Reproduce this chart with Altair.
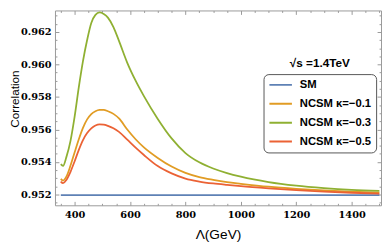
import altair as alt
import pandas as pd

# ---- data ----
lam = [350, 358, 370, 385, 400, 415, 430, 445, 460, 475, 490, 505, 520, 540, 560,
       590, 620, 650, 700, 750, 800, 850, 900, 950, 1000, 1100, 1200, 1300, 1400, 1500]
sm = [0.95196] * len(lam)
k01 = [0.95296, 0.95286, 0.95310, 0.95378, 0.95460, 0.95540, 0.95610, 0.95662, 0.95695,
       0.95712, 0.95720, 0.95721, 0.95712, 0.95696, 0.95668, 0.95600, 0.95540, 0.95490,
       0.95425, 0.95372, 0.95333, 0.95307, 0.95290, 0.95276, 0.95266, 0.95248, 0.95235,
       0.95225, 0.95218, 0.95212]
k03 = [0.95387, 0.95376, 0.95430, 0.95530, 0.95680, 0.95860, 0.96020, 0.96150, 0.96255,
       0.96305, 0.96320, 0.96310, 0.96288, 0.96230, 0.96145, 0.96010, 0.95900, 0.95805,
       0.95665, 0.95545, 0.95455, 0.95398, 0.95360, 0.95332, 0.95310, 0.95277, 0.95255,
       0.95240, 0.95229, 0.95222]
k05 = [0.95280, 0.95270, 0.95290, 0.95340, 0.95405, 0.95475, 0.95535, 0.95578, 0.95607,
       0.95625, 0.95632, 0.95630, 0.95622, 0.95607, 0.95585, 0.95537, 0.95488, 0.95443,
       0.95375, 0.95330, 0.95298, 0.95280, 0.95268, 0.95259, 0.95251, 0.95238, 0.95227,
       0.95218, 0.95211, 0.95206]

series_names = ["SM", "NCSM κ=−0.1", "NCSM κ=−0.3", "NCSM κ=−0.5"]
series_values = [sm, k01, k03, k05]
colors = ["#5E81B5", "#E19C24", "#8FB032", "#EB6235"]

x_major = [400, 600, 800, 1000, 1200, 1400]
x_minor = [350, 450, 500, 550, 650, 700, 750, 850, 900, 950, 1050, 1100, 1150,
           1250, 1300, 1350, 1450, 1500]
y_major = [0.952, 0.954, 0.956, 0.958, 0.960, 0.962]
y_minor = [0.9515, 0.9525, 0.953, 0.9535, 0.9545, 0.955, 0.9555, 0.9565, 0.957,
           0.9575, 0.9585, 0.959, 0.9595, 0.9605, 0.961, 0.9615, 0.9625, 0.963]

title_text = "√s =1.4TeV"

rows = []
for name, vals in zip(series_names, series_values):
    for xv, yv in zip(lam, vals):
        rows.append({"lam": xv, "corr": yv, "series": name})
df = pd.DataFrame(rows)

W, H = 333, 199
FRAME = "#999999"

xs = alt.Scale(domain=[329, 1506], nice=False, zero=False)
ys = alt.Scale(domain=[0.951338, 0.963318], nice=False, zero=False)

color = alt.Color(
    "series:N",
    scale=alt.Scale(domain=series_names, range=colors),
    legend=alt.Legend(
        title=None, orient="none", legendX=213, legendY=65,
        symbolType="stroke", symbolSize=529, symbolStrokeWidth=2,
        clipHeight=12, rowPadding=7.3, padding=5, labelOffset=7,
        labelFont="Liberation Sans", labelFontSize=11.5, labelFontWeight="bold",
        labelColor="black", strokeColor="#555555", cornerRadius=5,
        fillColor="white",
    ),
)

main = alt.Chart(df).mark_line(strokeWidth=1.8, interpolate="monotone").encode(
    x=alt.X("lam:Q", scale=xs, axis=alt.Axis(
        orient="bottom", values=x_major, format="d", ticks=False, tickSize=0,
        grid=False, domainColor=FRAME, labelFont="DejaVu Serif", labelFontWeight="bold",
        labelFontSize=10, labelColor="black", labelPadding=4,
        title="Λ(GeV)", titleFont="Liberation Sans", titleFontSize=14,
        titleFontWeight="normal", titleColor="black", titleBaseline="middle",
        titleY=30)),
    y=alt.Y("corr:Q", scale=ys, axis=alt.Axis(
        orient="left", values=y_major, format=".3f", ticks=False, tickSize=0,
        grid=False, domainColor=FRAME, labelFont="DejaVu Serif", labelFontWeight="bold",
        labelFontSize=10, labelColor="black", labelPadding=4,
        title="Correlation", titleFont="Liberation Sans", titleFontSize=12,
        titleFontWeight="normal", titleColor="black", titleAngle=270,
        titleBaseline="middle", titleAlign="center", titleX=-41, titleY=90)),
    color=color,
    detail="series:N",
)


def tick_layer(xorient, xoff, yorient, yoff, xvals, yvals, size, domain):
    common = dict(labels=False, title=None, grid=False, tickColor=FRAME,
                  tickSize=size, tickWidth=1, domain=domain, domainColor=FRAME)
    return alt.Chart(df).mark_line(opacity=0).encode(
        x=alt.X("lam:Q", scale=xs, axis=alt.Axis(orient=xorient, offset=xoff,
                                                  values=xvals, **common)),
        y=alt.Y("corr:Q", scale=ys, axis=alt.Axis(orient=yorient, offset=yoff,
                                                   values=yvals, **common)),
        detail="series:N",
    )


# inward ticks on bottom/left
t1 = tick_layer("top", -H, "right", -W, x_major, y_major, 4, False)
t2 = tick_layer("top", -H, "right", -W, x_minor, y_minor, 2, False)
# inward ticks on top/right, with frame lines
t3 = tick_layer("bottom", -H, "left", -W, x_major, y_major, 4, True)
t4 = tick_layer("bottom", -H, "left", -W, x_minor, y_minor, 2, False)

label = alt.Chart(pd.DataFrame({"t": [title_text]})).mark_text(
    font="Liberation Sans", fontSize=12, fontWeight="bold", color="black",
    align="center", baseline="middle",
).encode(x=alt.value(270.5), y=alt.value(54), text="t:N")

chart = alt.layer(t1, t2, t3, t4, main, label).resolve_axis(
    x="independent", y="independent"
).properties(
    width=W, height=H,
    autosize=alt.AutoSizeParams(type="none"),
    padding={"left": 48, "top": 0, "right": 1, "bottom": 37},
).configure_view(stroke=None)

chart.save("out.html", embed_options={"renderer": "svg", "actions": False})
